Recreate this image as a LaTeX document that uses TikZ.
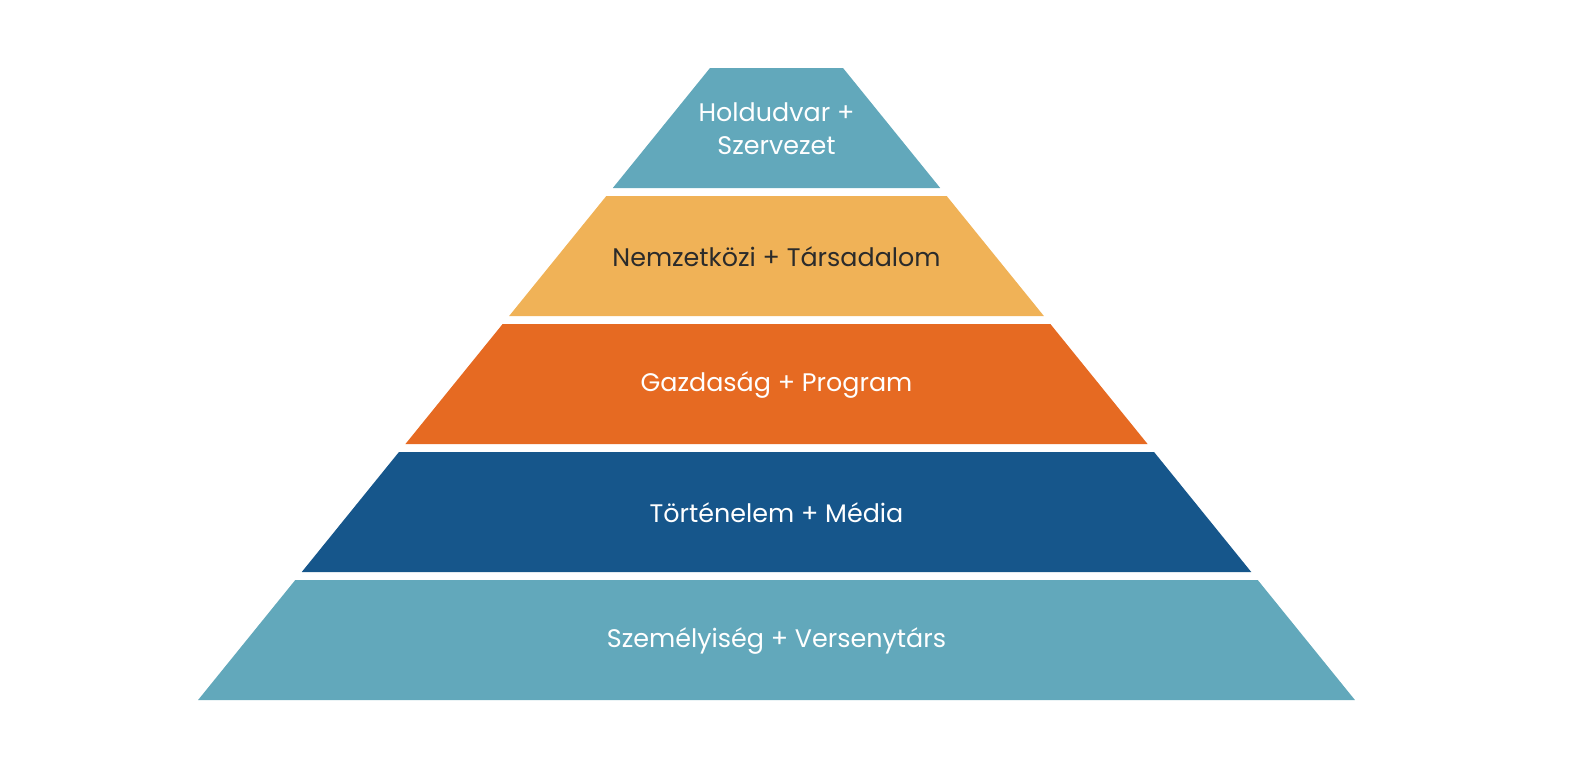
\documentclass[tikz,border=0pt]{standalone}
\usepackage{fontspec}
\setmainfont{Poppins}

\definecolor{layerteal}{HTML}{62A8BB}
\definecolor{layergold}{HTML}{F0B257}
\definecolor{layerorange}{HTML}{E66A22}
\definecolor{layerblue}{HTML}{16568B}
\definecolor{darktext}{HTML}{2B2B2B}

\begin{document}
\begin{tikzpicture}[x=1pt, y=-1pt,
    layertext/.style={font=\fontsize{25.4}{33}\selectfont, align=center}]

\useasboundingbox (0,0) rectangle (1570,768);

% Pyramid layers, top to bottom
\foreach \i/\col/\txt/\lbl in {
    1/layerteal/white/{Holdudvar +\\Szervezet},
    2/layergold/darktext/{Nemzetközi + Társadalom},
    3/layerorange/white/{Gazdaság + Program},
    4/layerblue/white/{Történelem + Média},
    5/layerteal/white/{Személyiség + Versenytárs}}
{
    \pgfmathsetmacro{\ytop}{68+128*(\i-1)}
    \pgfmathsetmacro{\ybot}{\ytop+120}
    \pgfmathsetmacro{\htop}{66.5+0.81*(\ytop-68)}
    \pgfmathsetmacro{\hbot}{66.5+0.81*(\ybot-68)}

    \fill[\col] ({776.5-\htop},\ytop) -- ({776.5+\htop},\ytop)
        -- ({776.5+\hbot},\ybot) -- ({776.5-\hbot},\ybot) -- cycle;

    \node[layertext, text=\txt] (layer\i) at (776.5,{\ytop+61}) {\lbl};
}

\end{tikzpicture}
\end{document}
